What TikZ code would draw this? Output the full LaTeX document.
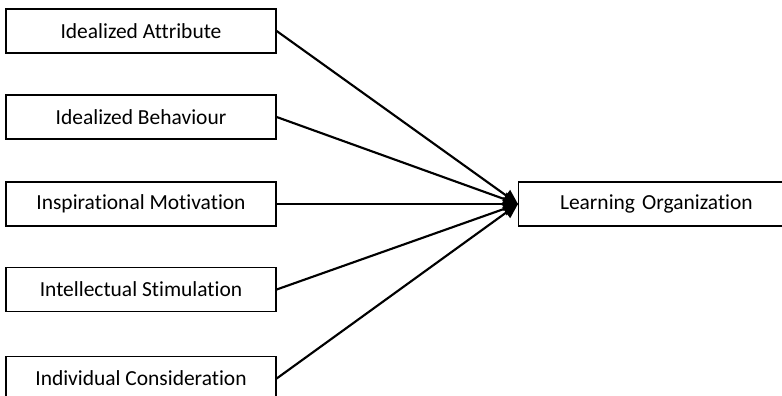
\documentclass[tikz,border=0pt]{standalone}
\usepackage{fontspec}
\setmainfont[Ligatures=NoCommon]{Carlito}
\usetikzlibrary{arrows.meta}

\tikzset{
  factor/.style={draw,line width=1pt,minimum width=202.5pt,minimum height=33pt,inner sep=0pt,font=\fontsize{16.1}{18}\selectfont},
  link/.style={line width=1.6pt,-{Triangle[length=11pt,width=10pt]}}
}

\begin{document}
\begin{tikzpicture}[x=0.75pt,y=0.75pt,yscale=-1,xscale=1]
\useasboundingbox (0,0) rectangle (782,396);
\clip (0,0) rectangle (782,396);

\node [factor] (ia) at (141,31) {Idealized Attribute};
\node [factor] (ib) at (141,117) {Idealized Behaviour};
\node [factor] (im) at (141,204) {Inspirational Motivation};
\node [factor] (is) at (141,289.5) {Intellectual Stimulation};
\node [factor] (ic) at (141,378.5) {Individual Consideration};

% target box, its right edge runs off the page
\node [factor,minimum width=300pt,anchor=west,text width=300pt,align=left] (lo) at (518,204) {\hspace*{31pt}Learning Organization};

\draw [link] (ia.east) -- (lo.west);
\draw [link] (ib.east) -- (lo.west);
\draw [link] (im.east) -- (lo.west);
\draw [link] (is.east) -- (lo.west);
\draw [link] (ic.east) -- (lo.west);

\end{tikzpicture}
\end{document}
